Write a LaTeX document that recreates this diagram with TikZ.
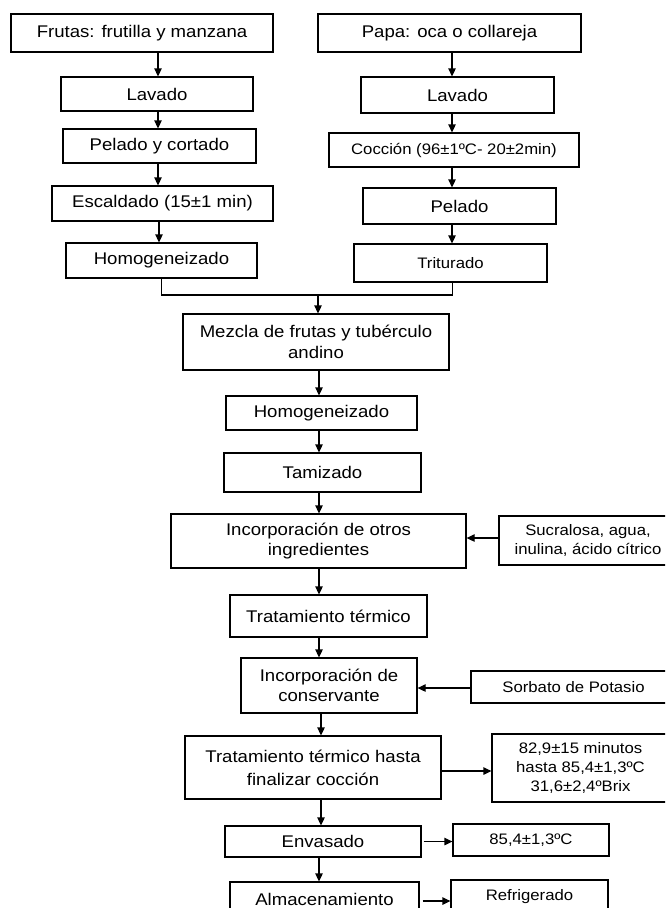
\documentclass[tikz,border=0pt]{standalone}
\usepackage{fontspec}
\setmainfont{Liberation Sans}[FakeStretch=1.1]
\usetikzlibrary{arrows.meta}
\begin{document}
\begin{tikzpicture}[x=1pt,y=-1pt,
  box/.style={draw, line width=1.3pt, inner sep=0pt, align=center,
    font=\fontsize{16.9}{20.5}\selectfont},
  smallbox/.style={box, font=\fontsize{15.2}{19}\selectfont},
  link/.style={line width=1.3pt},
  arr/.style={link, -{Triangle[length=8pt,width=7.5pt]}}]
\useasboundingbox (0,0) rectangle (665,908);
\clip (0,0) rectangle (665,908);

% fruit branch
\node[box, minimum width=262pt, minimum height=38pt] (frutas) at (142,33) {Frutas: frutilla y manzana};
\node[box, minimum width=192pt, minimum height=34pt] (lavL) at (157,94) {Lavado};
\node[box, minimum width=193pt, minimum height=34pt] (pelcort) at (159.5,146) {Pelado y cortado};
\node[box, minimum width=221pt, minimum height=35pt] (escald) at (162.5,203.5) {Escaldado (15±1 min)};
\node[box, minimum width=191pt, minimum height=35pt] (homL) at (161.5,260.5) {Homogeneizado};

% tuber branch
\node[box, minimum width=263pt, minimum height=38pt] (papa) at (449.5,33) {Papa: oca o collareja};
\node[box, minimum width=193pt, minimum height=36pt] (lavR) at (457.5,95) {Lavado};
\node[smallbox, minimum width=250pt, minimum height=34pt] (coccion) at (454,150) {Cocción (96±1ºC- 20±2min)};
\node[box, minimum width=193pt, minimum height=36pt] (pelR) at (459.5,206) {Pelado};
\node[smallbox, minimum width=193pt, minimum height=38pt] (trit) at (450.5,263) {Triturado};

% main line
\node[box, minimum width=266pt, minimum height=56pt] (mezcla) at (316,342) {Mezcla de frutas y tubérculo\\andino};
\node[box, minimum width=191pt, minimum height=34pt] (homC) at (321.5,413) {Homogeneizado};
\node[box, minimum width=197pt, minimum height=39pt] (tamiz) at (322.5,472.5) {Tamizado};
\node[box, minimum width=295pt, minimum height=54pt] (incorp) at (318.5,541) {Incorporación de otros\\ingredientes};
\node[smallbox, minimum width=178pt, minimum height=49pt] (sucr) at (588,540.5) {Sucralosa, agua,\\inulina, ácido cítrico};
\node[box, minimum width=197pt, minimum height=42pt] (trat) at (328.5,616) {Tratamiento térmico};
\node[box, minimum width=176pt, minimum height=55pt] (conserv) at (329,685.5) {Incorporación de\\conservante};
\node[smallbox, minimum width=205pt, minimum height=32pt] (sorb) at (573.5,687) {Sorbato de Potasio};
\node[box, font=\fontsize{16.9}{23}\selectfont, minimum width=256pt, minimum height=63pt] (hasta) at (313,767.5) {Tratamiento térmico hasta\\finalizar cocción};
\node[smallbox, minimum width=177pt, minimum height=68pt] (datos) at (580.5,768) {82,9±15 minutos\\hasta 85,4±1,3ºC\\31,6±2,4ºBrix};
\node[box, minimum width=196pt, minimum height=31pt] (envas) at (323,841.5) {Envasado};
\node[smallbox, minimum width=156pt, minimum height=32pt] (temp) at (531,840) {85,4±1,3ºC};
\node[box, minimum width=189pt, minimum height=34pt] (almac) at (324.5,899) {Almacenamiento};
\node[smallbox, minimum width=157pt, minimum height=34pt] (refrig) at (529.5,897) {Refrigerado};

% column guides
\coordinate (lc) at (158,0);
\coordinate (rc) at (452,0);
\coordinate (cc) at (319,0);
\coordinate (join) at (318,295);

% fruit branch arrows
\draw[arr] (lc |- frutas.south) -- (lc |- lavL.north);
\draw[arr] (lc |- lavL.south) -- (lc |- pelcort.north);
\draw[arr] (lc |- pelcort.south) -- (lc |- escald.north);
\draw[arr] ([xshift=1pt]lc |- escald.south) -- ([xshift=1pt]lc |- homL.north);

% tuber branch arrows
\draw[arr] (rc |- papa.south) -- (rc |- lavR.north);
\draw[arr] (rc |- lavR.south) -- (rc |- coccion.north);
\draw[arr] (rc |- coccion.south) -- (rc |- pelR.north);
\draw[arr] (rc |- pelR.south) -- (rc |- trit.north);

% junction of both branches
\draw[link] (homL.south) |- (join);
\draw[link] ([xshift=2pt]trit.south) |- (join);
\draw[arr] (join) -- (join |- mezcla.north);

% main line arrows
\draw[arr] (cc |- mezcla.south) -- (cc |- homC.north);
\draw[arr] (cc |- homC.south) -- (cc |- tamiz.north);
\draw[arr] (cc |- tamiz.south) -- (cc |- incorp.north);
\draw[arr] (cc |- incorp.south) -- (cc |- trat.north);
\draw[arr] (cc |- trat.south) -- (cc |- conserv.north);
\draw[arr] ([xshift=2pt]cc |- conserv.south) -- ([xshift=2pt]cc |- hasta.north);
\draw[arr] ([xshift=2pt]cc |- hasta.south) -- ([xshift=2pt]cc |- envas.north);
\draw[arr] (cc |- envas.south) -- (cc |- almac.north);

% side inputs and outputs
\draw[arr] ([yshift=2.5pt]sucr.west) -- ([yshift=2.5pt]sucr.west -| incorp.east);
\draw[arr] ([yshift=-1pt]sorb.west) -- ([yshift=-1pt]sorb.west -| conserv.east);
\draw[arr] ([yshift=-3.5pt]hasta.east) -- ([yshift=-3.5pt]hasta.east -| datos.west);
\draw[arr] ([xshift=2pt]envas.east) -- (envas.east -| temp.west);
\draw[arr, shorten <=3pt] ([yshift=-2pt]almac.east) -- ([yshift=-2pt]almac.east -| refrig.west);
\end{tikzpicture}
\end{document}
